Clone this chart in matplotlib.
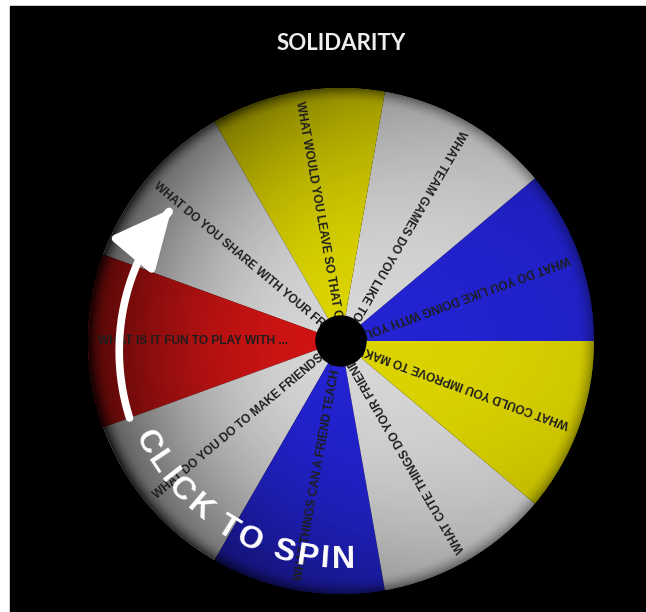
import numpy as np
import matplotlib
matplotlib.use('Agg')
import matplotlib.pyplot as plt
from matplotlib.patches import Circle, Rectangle, FancyArrowPatch
from matplotlib.path import Path
from matplotlib.textpath import text_to_path
from matplotlib.font_manager import FontProperties

TITLE = 'SOLIDARITY'
SPIN_LABEL = 'CLICK TO SPIN'

# wheel segments, counter-clockwise starting at 3 o'clock
QUESTIONS = [
    'WHAT DO YOU LIKE DOING WITH YOUR TEAM?',
    'WHAT TEAM GAMES DO YOU LIKE TO PLAY?',
    'WHAT WOULD YOU LEAVE SO THAT OTHERS CAN PLAY?',
    'WHAT DO YOU SHARE WITH YOUR FRIENDS?',
    'WHAT IS IT FUN TO PLAY WITH ...',
    'WHAT DO YOU DO TO MAKE FRIENDS?',
    'WHAT THINGS CAN A FRIEND TEACH YOU?',
    'WHAT CUTE THINGS DO YOUR FRIENDS DO?',
    'WHAT COULD YOU IMPROVE TO MAKE FRIENDS?',
]
SEGMENT_COLORS = ['#2323d2', '#d6d6d6', '#dcd400', '#d6d6d6', '#d01414',
                  '#d6d6d6', '#2323d2', '#d6d6d6', '#dcd400']
SIZES = [1] * len(QUESTIONS)

W, H = 646, 612
CX, CY = 341, H - 341
R = 253
HUB_R = 25


def wheelShade(n=600):
    xs = np.linspace(-1, 1, n)
    xx, yy = np.meshgrid(xs, xs)
    rr = np.hypot(xx, yy)
    th = np.arctan2(yy, xx)
    side = 0.55 - 0.45 * np.cos(th)
    alpha = 0.62 * rr ** 2.2 * side
    edge = np.clip((rr - 0.94) / 0.06, 0, 1) ** 1.8
    alpha = np.clip(alpha + 0.3 * edge, 0, 0.95)
    img = np.zeros((n, n, 4))
    img[..., 3] = alpha
    return img


def textWidth(s, prop):
    if not s:
        return 0
    return text_to_path.get_text_width_height_descent(s, prop, ismath=False)[0] * 100 / 72


def fitText(s, prop, maxw):
    # the hub hides the tail of long questions, so cut them where they go under it
    while textWidth(s, prop) > maxw:
        s = s[:-1]
    return s


def main():
    fig = plt.figure(figsize=(W / 100, H / 100), dpi=100)
    fig.patch.set_facecolor('white')
    ax = fig.add_axes([0, 0, 1, 1])

    wedges, _ = ax.pie(SIZES, colors=SEGMENT_COLORS, startangle=0, counterclock=True,
                       center=(CX, CY), radius=R, wedgeprops=dict(linewidth=0, zorder=2))
    ax.set_xlim(0, W)
    ax.set_ylim(0, H)
    ax.axis('off')
    ax.add_patch(Rectangle((10, 0), W - 10, H - 6, color='black', zorder=0))

    # radial darkening of the wheel
    clip = Circle((CX, CY), R, transform=ax.transData)
    im = ax.imshow(wheelShade(), extent=[CX - R, CX + R, CY - R, CY + R], origin='lower',
                   zorder=3, interpolation='bilinear')
    im.set_clip_path(clip)

    qprop = FontProperties(family='Liberation Sans', weight='bold', size=8.6)
    r0 = 243
    for w, q in zip(wedges, QUESTIONS):
        mid = (w.theta1 + w.theta2) / 2
        a = np.deg2rad(mid)
        ax.text(CX + r0 * np.cos(a), CY + r0 * np.sin(a), fitText(q, qprop, r0 - 12),
                rotation=mid + 180, rotation_mode='anchor', ha='left', va='center',
                fontproperties=qprop, color='#1e1e1e', zorder=4)

    ax.add_patch(Circle((CX, CY), HUB_R, color='black', zorder=6))

    # curved arrow
    angs = np.linspace(200, 142, 60)
    radii = np.linspace(225, 215, 60)
    verts = np.column_stack([CX + radii * np.cos(np.deg2rad(angs)),
                             CY + radii * np.sin(np.deg2rad(angs))])
    arrow = FancyArrowPatch(path=Path(verts), arrowstyle='-|>,head_length=3.6,head_width=1.7',
                            mutation_scale=10, color='white', lw=5.5, zorder=7)
    ax.add_patch(arrow)

    # CLICK TO SPIN along the arc
    prop = FontProperties(family='Liberation Sans', weight='bold', size=23)
    prefix = [textWidth(SPIN_LABEL[:k], prop) for k in range(len(SPIN_LABEL) + 1)]
    centers = [(prefix[k] + prefix[k + 1]) / 2 for k in range(len(SPIN_LABEL))]
    a0, a1 = 207.5, 270.5
    rt = 219
    for ch, c in zip(SPIN_LABEL, centers):
        ang = a0 + (a1 - a0) * (c - centers[0]) / (centers[-1] - centers[0])
        a = np.deg2rad(ang)
        ax.text(CX + rt * np.cos(a), CY + rt * np.sin(a), ch, rotation=ang + 90,
                rotation_mode='anchor', ha='center', va='center', fontproperties=prop,
                color='white', zorder=8)

    ax.text(341, H - 43, TITLE, ha='center', va='center', fontsize=16, fontweight='bold',
            family='Lato', color='#eeeeee')

    fig.savefig('out.png', dpi=100, facecolor='white')


if __name__ == '__main__':
    main()
